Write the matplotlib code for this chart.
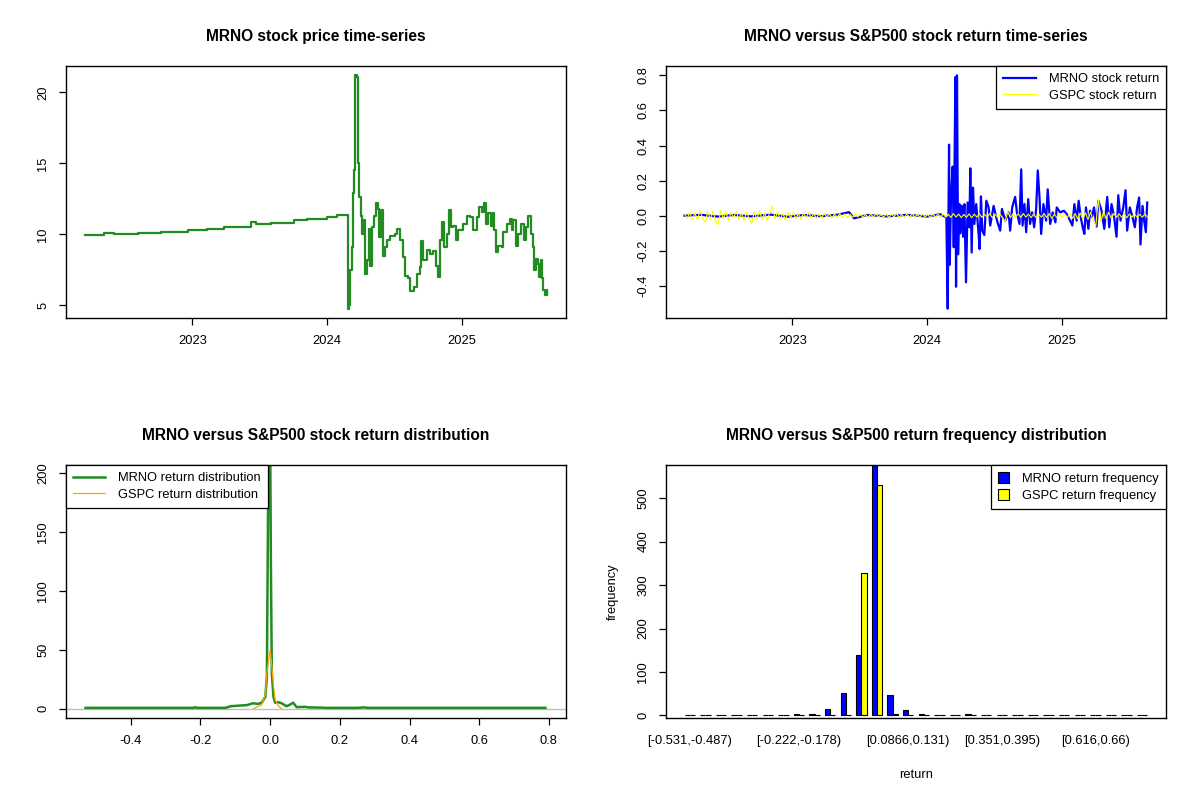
import numpy as np
import matplotlib
matplotlib.use("Agg")
import matplotlib.pyplot as plt
from matplotlib.patches import Patch
from matplotlib.lines import Line2D

plt.rcParams['font.family'] = ['Liberation Sans', 'DejaVu Sans']

# ---- MRNO price (decimal year, close) ----
price_t = [2022.198, 2022.346, 2022.420, 2022.593, 2022.765, 2022.963, 2023.111, 2023.235,
           2023.395, 2023.432, 2023.469, 2023.580, 2023.753, 2023.852, 2024.000, 2024.074,
           2024.153, 2024.156, 2024.163, 2024.173, 2024.185, 2024.193, 2024.202, 2024.210,
           2024.222, 2024.230, 2024.240, 2024.252, 2024.262, 2024.272, 2024.284, 2024.296,
           2024.309, 2024.321, 2024.333, 2024.346, 2024.363, 2024.375, 2024.388, 2024.400,
           2024.415, 2024.427, 2024.444, 2024.469, 2024.506, 2024.519, 2024.543, 2024.563,
           2024.580, 2024.600, 2024.617, 2024.642, 2024.667, 2024.691, 2024.699, 2024.716,
           2024.741, 2024.765, 2024.790, 2024.810, 2024.822, 2024.835, 2024.852, 2024.869,
           2024.889, 2024.909, 2024.921, 2024.938, 2024.958, 2024.975, 2025.012, 2025.037,
           2025.062, 2025.086, 2025.111, 2025.131, 2025.148, 2025.165, 2025.180, 2025.198,
           2025.215, 2025.230, 2025.240, 2025.254, 2025.272, 2025.296, 2025.309, 2025.333,
           2025.358, 2025.370, 2025.383, 2025.402, 2025.420, 2025.444, 2025.464, 2025.481,
           2025.494, 2025.511, 2025.526, 2025.536, 2025.551, 2025.563, 2025.575, 2025.588,
           2025.598, 2025.605, 2025.617, 2025.630, 2025.637]
price = [9.93, 10.07, 10.0, 10.07, 10.14, 10.3, 10.4, 10.52,
         10.54, 10.85, 10.7, 10.8, 11.0, 11.1, 11.24, 11.4,
         11.3, 4.77, 5.0, 7.5, 9.1, 12.9, 14.5, 21.2,
         21.1, 15.0, 12.6, 11.3, 10.0, 11.0, 7.2, 8.2,
         10.4, 7.8, 10.5, 11.3, 12.2, 11.8, 9.8, 11.7,
         8.5, 9.1, 9.6, 9.9, 10.05, 10.4, 9.6, 8.4,
         7.1, 6.9, 6.0, 6.3, 7.2, 7.7, 9.5, 8.2,
         8.9, 8.6, 8.8, 7.8, 7.0, 9.6, 10.9, 9.1,
         10.05, 11.7, 10.5, 10.6, 9.6, 10.3, 10.75, 11.3,
         11.2, 10.3, 11.2, 11.9, 11.6, 12.2, 10.75, 11.5,
         10.6, 11.5, 10.3, 8.75, 9.2, 9.1, 10.2, 10.75,
         11.1, 10.3, 11.0, 9.2, 10.05, 10.75, 9.6, 10.5,
         11.3, 10.05, 9.1, 7.5, 8.3, 7.9, 7.0, 8.2,
         6.9, 6.1, 5.7, 6.05, 5.8]

# ---- MRNO daily return (decimal year, return) ----
mrno_ret_t = [2022.198, 2022.321, 2022.444, 2022.568, 2022.691, 2022.840, 2022.963, 2023.086,
              2023.210, 2023.333, 2023.420, 2023.457, 2023.556, 2023.704, 2023.852, 2024.000,
              2024.099, 2024.143, 2024.153, 2024.163, 2024.168, 2024.178, 2024.190, 2024.198,
              2024.210, 2024.215, 2024.222, 2024.230, 2024.240, 2024.247, 2024.259, 2024.267,
              2024.277, 2024.289, 2024.301, 2024.314, 2024.321, 2024.331, 2024.341, 2024.351,
              2024.365, 2024.383, 2024.390, 2024.400, 2024.410, 2024.425, 2024.440, 2024.457,
              2024.469, 2024.494, 2024.519, 2024.543, 2024.556, 2024.580, 2024.605, 2024.617,
              2024.632, 2024.654, 2024.667, 2024.686, 2024.699, 2024.709, 2024.723, 2024.736,
              2024.751, 2024.765, 2024.780, 2024.795, 2024.810, 2024.822, 2024.835, 2024.847,
              2024.864, 2024.884, 2024.896, 2024.914, 2024.933, 2024.953, 2024.963, 2024.988,
              2025.017, 2025.037, 2025.062, 2025.079, 2025.094, 2025.111, 2025.126, 2025.141,
              2025.156, 2025.168, 2025.180, 2025.198, 2025.210, 2025.225, 2025.240, 2025.259,
              2025.272, 2025.296, 2025.316, 2025.338, 2025.353, 2025.370, 2025.388, 2025.407,
              2025.420, 2025.437, 2025.457, 2025.474, 2025.486, 2025.506, 2025.526, 2025.543,
              2025.560, 2025.575, 2025.585, 2025.600, 2025.612, 2025.625, 2025.635]
mrno_ret = [0.0, 0.005, -0.005, 0.004, -0.004, 0.006, -0.006, 0.004,
            -0.003, 0.005, 0.02, -0.015, 0.004, -0.004, 0.005, -0.005,
            0.008, -0.01, -0.53, 0.405, -0.28, 0.12, 0.28, -0.18,
            0.79, -0.405, 0.80, -0.22, 0.066, -0.10, 0.056, -0.12,
            0.066, -0.38, 0.075, -0.066, 0.27, -0.21, 0.16, -0.047,
            0.066, -0.11, -0.19, 0.11, -0.085, -0.11, 0.085, 0.047,
            -0.056, 0.056, -0.028, -0.085, 0.038, -0.028, 0.019, -0.085,
            0.047, 0.107, 0.019, -0.047, 0.264, -0.056, 0.066, -0.094,
            0.094, -0.047, 0.019, -0.066, 0.038, 0.258, 0.104, -0.104,
            0.066, -0.028, 0.15, -0.047, 0.019, -0.038, 0.047, 0.019,
            0.028, 0.009, -0.028, -0.056, 0.066, -0.028, 0.085, -0.009,
            -0.066, -0.104, 0.047, -0.075, 0.028, -0.009, 0.047, -0.062,
            0.085, 0.028, -0.075, 0.107, -0.066, 0.066, 0.0, -0.12,
            0.117, -0.028, 0.047, 0.145, -0.085, 0.047, -0.009, -0.066,
            0.047, 0.104, -0.164, 0.056, -0.028, -0.094, 0.075]

# ---- GSPC return, evenly spread from first to last trading date ----
gspc_start, gspc_end = 2022.198, 2025.637
gspc_ret = [0.012, -0.018, 0.021, -0.025, 0.015, -0.022, 0.028, -0.015, -0.038, 0.024,
            -0.02, 0.026, -0.03, -0.05, 0.03, -0.018, 0.022, -0.027, 0.019, -0.012,
            0.025, -0.021, 0.016, -0.028, 0.02, -0.017, -0.045, 0.023, -0.02, 0.027,
            -0.024, 0.018, -0.026, 0.021, 0.055, -0.019, 0.024, -0.022, 0.015, -0.025,
            0.02, -0.014, 0.018, -0.016, 0.012, -0.02, 0.015, -0.011, 0.017, -0.013,
            0.012, -0.015, 0.01, -0.012, 0.014, -0.009, 0.011, -0.013, 0.008, -0.01,
            0.012, -0.008, 0.01, -0.011, 0.007, -0.009, 0.011, -0.007, 0.009, -0.01,
            0.008, -0.011, 0.01, -0.008, 0.012, -0.01, 0.007, -0.009, 0.011, -0.012,
            0.009, -0.007, 0.013, -0.01, 0.008, -0.011, 0.01, -0.008, 0.012, -0.009,
            0.007, -0.01, 0.011, -0.008, 0.009, -0.012, 0.01, -0.007, 0.008, -0.01,
            0.011, -0.009, 0.008, -0.01, 0.012, -0.008, 0.009, -0.011, 0.007, -0.009,
            0.01, -0.012, 0.009, -0.008, 0.011, -0.01, 0.008, -0.009, 0.012, -0.011,
            0.009, -0.008, 0.01, -0.015, -0.03, 0.022, -0.012, 0.01, -0.009, 0.011,
            -0.01, 0.012, -0.008, 0.009, -0.011, 0.01, -0.012, 0.008, -0.009, 0.013,
            -0.01, 0.011, -0.015, 0.009, -0.012, 0.01, -0.008, 0.012, -0.011, 0.014,
            -0.016, 0.013, -0.018, 0.015, -0.02, 0.017, -0.022, 0.02, -0.027, -0.06,
            0.095, -0.035, 0.025, -0.018, 0.02, -0.015, 0.012, -0.01, 0.011, -0.009,
            0.01, -0.012, 0.009, -0.008, 0.011, -0.01, 0.008, -0.009, 0.01, -0.008]

# ---- return densities ----
mrno_dens_x = [-0.53, -0.3, -0.22, -0.215, -0.21, -0.13, -0.123, -0.114, -0.09, -0.066,
               -0.05, -0.035, -0.024, -0.014, -0.0095, -0.0047, -0.002, 0.0, 0.002, 0.0047,
               0.0095, 0.014, 0.024, 0.033, 0.047, 0.057, 0.066, 0.076, 0.1, 0.11,
               0.15, 0.16, 0.25, 0.27, 0.28, 0.4, 0.6, 0.79]
mrno_dens_y = [0.6, 0.6, 0.6, 1.2, 0.6, 0.6, 1.0, 2.0, 2.5, 3.0,
               4.5, 4.0, 5.0, 10.0, 27.0, 230.0, 230.0, 230.0, 125.0, 30.0,
               10.0, 5.0, 5.4, 4.5, 2.0, 3.4, 5.0, 1.2, 1.5, 1.0,
               0.8, 0.6, 0.6, 1.0, 0.6, 0.6, 0.6, 0.6]
gspc_dens_x = [-0.047, -0.024, -0.014, -0.0095, -0.0047, 0.0, 0.0047, 0.0095, 0.014, 0.024, 0.033]
gspc_dens_y = [0.0, 3.4, 12.0, 30.0, 41.0, 50.0, 36.0, 19.0, 7.6, 2.0, 0.0]

# ---- histogram ----
bin_labels = ["[-0.531,-0.487)", "[-0.487,-0.443)", "[-0.443,-0.399)", "[-0.399,-0.355)",
              "[-0.355,-0.31)", "[-0.31,-0.266)", "[-0.266,-0.222)", "[-0.222,-0.178)",
              "[-0.178,-0.134)", "[-0.134,-0.0899)", "[-0.0899,-0.0458)", "[-0.0458,-0.00168)",
              "[-0.00168,0.0424)", "[0.0424,0.0866)", "[0.0866,0.131)", "[0.131,0.175)",
              "[0.175,0.219)", "[0.219,0.263)", "[0.263,0.307)", "[0.307,0.351)",
              "[0.351,0.395)", "[0.395,0.44)", "[0.44,0.484)", "[0.484,0.528)",
              "[0.528,0.572)", "[0.572,0.616)", "[0.616,0.66)", "[0.66,0.704)",
              "[0.704,0.748)", "[0.748,0.792]"]
shown_labels = [0, 7, 14, 20, 26]
mrno_freq = [2, 1, 2, 2, 0, 2, 0, 4, 4, 16, 51, 140, 576, 46, 13, 4, 0, 1, 4, 0,
             0, 1, 0, 0, 0, 0, 0, 0, 0, 1]
gspc_freq = [0, 0, 0, 0, 0, 0, 0, 0, 0, 0, 2, 328, 530, 3, 2, 0, 0, 0, 0, 0,
             0, 0, 0, 0, 0, 0, 0, 0, 0, 0]

GREEN = '#228B22'
TICK_FS = 9.3
TITLE_FS = 11.2

fig = plt.figure(figsize=(12, 8), dpi=100)
W, H = 1200.0, 800.0


def panel(x0, y0, x1, y1):
    ax = fig.add_axes([x0 / W, 1 - y1 / H, (x1 - x0) / W, (y1 - y0) / H])
    for s in ax.spines.values():
        s.set_linewidth(1.0)
        s.set_color('black')
    ax.tick_params(direction='out', length=5, width=0.9, labelsize=TICK_FS, pad=7)
    return ax


def fix_ylabels(ax):
    for lab in ax.get_yticklabels():
        lab.set_va('center')
        lab.set_rotation(90)


def year_axis(ax, t_min, t_max):
    span = t_max - t_min
    ax.set_xlim(t_min - 0.04 * span, t_max + 0.04 * span)
    ax.set_xticks([2023, 2024, 2025])
    ax.set_xticklabels(['2023', '2024', '2025'])


def r_legend(ax, handles, labels, loc, **kw):
    leg = ax.legend(handles=handles, labels=labels, loc=loc, fontsize=TICK_FS,
                    frameon=True, fancybox=False, borderaxespad=0, framealpha=1,
                    handletextpad=1.0, labelspacing=0.35, borderpad=0.55, **kw)
    leg.get_frame().set_edgecolor('black')
    leg.get_frame().set_linewidth(0.9)
    return leg


# top-left: price
ax1 = panel(66, 66, 566, 318)
ax1.plot(price_t, price, color=GREEN, lw=1.6, drawstyle='steps-post')
year_axis(ax1, price_t[0], price_t[-1])
lo, hi = min(price), max(price)
ax1.set_ylim(lo - 0.04 * (hi - lo), hi + 0.04 * (hi - lo))
ax1.set_yticks([5, 10, 15, 20])
fix_ylabels(ax1)
ax1.set_title('MRNO stock price time-series', fontsize=TITLE_FS, fontweight='bold', pad=18)

# top-right: returns
ax2 = panel(666, 66, 1166, 318)
gspc_t = np.linspace(gspc_start, gspc_end, len(gspc_ret))
ax2.plot(mrno_ret_t, mrno_ret, color='blue', lw=1.6)
ax2.plot(gspc_t, gspc_ret, color='yellow', lw=0.8)
year_axis(ax2, price_t[0], price_t[-1])
lo, hi = min(mrno_ret), max(mrno_ret)
ax2.set_ylim(lo - 0.04 * (hi - lo), hi + 0.04 * (hi - lo))
ax2.set_yticks([-0.4, -0.2, 0.0, 0.2, 0.4, 0.6, 0.8])
ax2.set_yticklabels(['-0.4', '-0.2', '0.0', '0.2', '0.4', '0.6', '0.8'])
fix_ylabels(ax2)
ax2.set_title('MRNO versus S&P500 stock return time-series', fontsize=TITLE_FS,
              fontweight='bold', pad=18)
r_legend(ax2, [Line2D([], [], color='blue', lw=1.6), Line2D([], [], color='yellow', lw=0.8)],
         ['MRNO stock return', 'GSPC stock return'], 'upper right', handlelength=2.5)

# bottom-left: density
ax3 = panel(66, 465, 566, 718)
ax3.axhline(0, color='#BEBEBE', lw=1)
ax3.plot(mrno_dens_x, mrno_dens_y, color=GREEN, lw=1.8)
ax3.plot(gspc_dens_x, gspc_dens_y, color='orange', lw=0.9)
ax3.set_xlim(-0.586, 0.849)
ax3.set_ylim(-8, 207)
ax3.set_xticks([-0.4, -0.2, 0.0, 0.2, 0.4, 0.6, 0.8])
ax3.set_xticklabels(['-0.4', '-0.2', '0.0', '0.2', '0.4', '0.6', '0.8'])
ax3.set_yticks([0, 50, 100, 150, 200])
fix_ylabels(ax3)
ax3.set_title('MRNO versus S&P500 stock return distribution', fontsize=TITLE_FS,
              fontweight='bold', pad=18)
r_legend(ax3, [Line2D([], [], color=GREEN, lw=1.8), Line2D([], [], color='orange', lw=0.9)],
         ['MRNO return distribution', 'GSPC return distribution'], 'upper left',
         handlelength=2.5)

# bottom-right: frequency bars
ax4 = panel(666, 465, 1166, 718)
g = np.arange(len(bin_labels))
ax4.bar(3 * g + 1.5, mrno_freq, width=1, color='blue', edgecolor='black', linewidth=0.8)
ax4.bar(3 * g + 2.5, gspc_freq, width=1, color='yellow', edgecolor='black', linewidth=0.8)
top = max(max(mrno_freq), max(gspc_freq))
ax4.set_ylim(-0.01 * top, top)
span = 3 * len(bin_labels) - 1
ax4.set_xlim(1 - 0.04 * span, 3 * len(bin_labels) + 0.04 * span)
ax4.set_xticks([3 * i + 2 for i in shown_labels])
ax4.set_xticklabels([bin_labels[i] for i in shown_labels])
ax4.tick_params(axis='x', length=0, pad=12)
ax4.set_yticks([0, 100, 200, 300, 400, 500])
fix_ylabels(ax4)
ax4.set_xlabel('return', fontsize=TICK_FS, labelpad=16)
ax4.set_ylabel('frequency', fontsize=TICK_FS, labelpad=13)
ax4.set_title('MRNO versus S&P500 return frequency distribution', fontsize=TITLE_FS,
              fontweight='bold', pad=18)
r_legend(ax4, [Patch(facecolor='blue', edgecolor='black', lw=0.8),
               Patch(facecolor='yellow', edgecolor='black', lw=0.8)],
         ['MRNO return frequency', 'GSPC return frequency'], 'upper right',
         handlelength=0.9, handleheight=0.9)

fig.savefig('out.png', dpi=100)
